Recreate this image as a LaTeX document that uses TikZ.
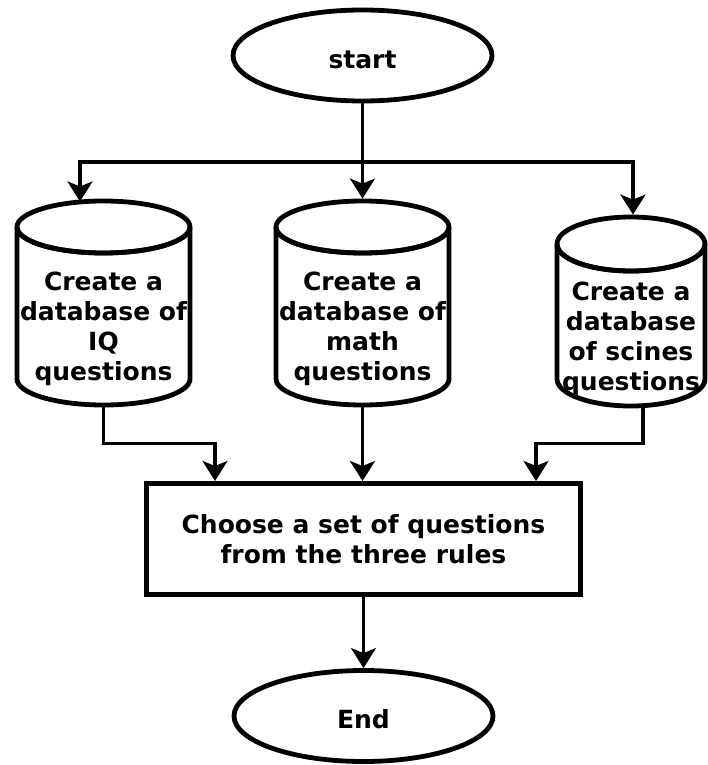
\documentclass[tikz,border=0pt]{standalone}
\usepackage{fontspec}
\setmainfont{DejaVu Sans}
\usetikzlibrary{arrows.meta,shapes.geometric,positioning}

\begin{document}
\begin{tikzpicture}[x=1pt,y=-1pt,
    terminal/.style={ellipse,draw,line width=4.8pt,minimum width=259pt,minimum height=91pt,inner sep=0pt,text height=26pt},
    database/.style={rectangle,inner sep=0pt,outer sep=0pt},
    dbline/.style={line width=4.8pt,line join=round},
    process/.style={rectangle,draw,line width=5pt,minimum width=434pt,minimum height=111pt,align=center},
    dbtext/.style={align=center,inner sep=0pt},
    arr/.style={draw,line width=3.2pt,-{Stealth[length=20pt,width=25pt,inset=5pt]}}]
      \useasboundingbox (0,0) rectangle (707,765);
      \begin{scope}[every node/.style={font=\fontsize{25}{30}\selectfont\bfseries}]
        \node (start)[terminal] at (362.5,55.5) {start};
        \node (iq)[database,minimum width=173pt,minimum height=204pt] at (103.5,303) {};
        \node (mth)[database,minimum width=173pt,minimum height=204pt] at (362.5,303) {};
        \node (sci)[database,minimum width=148pt,minimum height=189pt] at (631,311.5) {};
        \node (iqtext)[dbtext] at (103.5,329) {Create a\\database of\\IQ\\questions};
        \node (mthtext)[dbtext] at (362.5,329) {Create a\\database of\\math\\questions};
        \node (scitext)[dbtext] at (631,339) {Create a\\database\\of scines\\questions};
        \node (box)[process] at (363.5,539) {Choose a set of questions\\from the three rules};
        \node (end)[terminal] at (363.5,716) {End};
      \end{scope}
      % cylinder outlines
      \foreach \n/\rx/\ry in {iq/86.5/26, mth/86.5/26, sci/74/27}{
        \draw[dbline] ([yshift=-\ry pt]\n.north west) -- ([yshift=\ry pt]\n.south west)
          arc[start angle=180,end angle=360,x radius=\rx pt,y radius=\ry pt]
          -- ([yshift=-\ry pt]\n.north east)
          arc[start angle=0,end angle=360,x radius=\rx pt,y radius=\ry pt];
        \draw[dbline] ([yshift=-\ry pt]\n.north west)
          arc[start angle=180,end angle=360,x radius=\rx pt,y radius=\ry pt];
      }
      \coordinate (fork) at (362.5,162);
      \begin{scope}[every path/.style={arr}]
        \draw (start.south) -- ([yshift=2.4pt]mth.north);
        \draw (fork) -| ([xshift=-23.5pt,yshift=-0.5pt]iq.north);
        \draw (fork) -| ([xshift=2pt,yshift=2.4pt]sci.north);
        \draw ([yshift=-2.4pt]iq.south) -- ++(0,36) -| ([xshift=-148.5pt]box.north);
        \draw ([yshift=-2.4pt]mth.south) -- (mth.south |- box.north);
        \draw ([xshift=12pt,yshift=-2.4pt]sci.south) -- ++(0,35) -| ([xshift=172.5pt]box.north);
        \draw (box.south) -- (box.south |- end.north);
      \end{scope}
    \end{tikzpicture}
\end{document}
